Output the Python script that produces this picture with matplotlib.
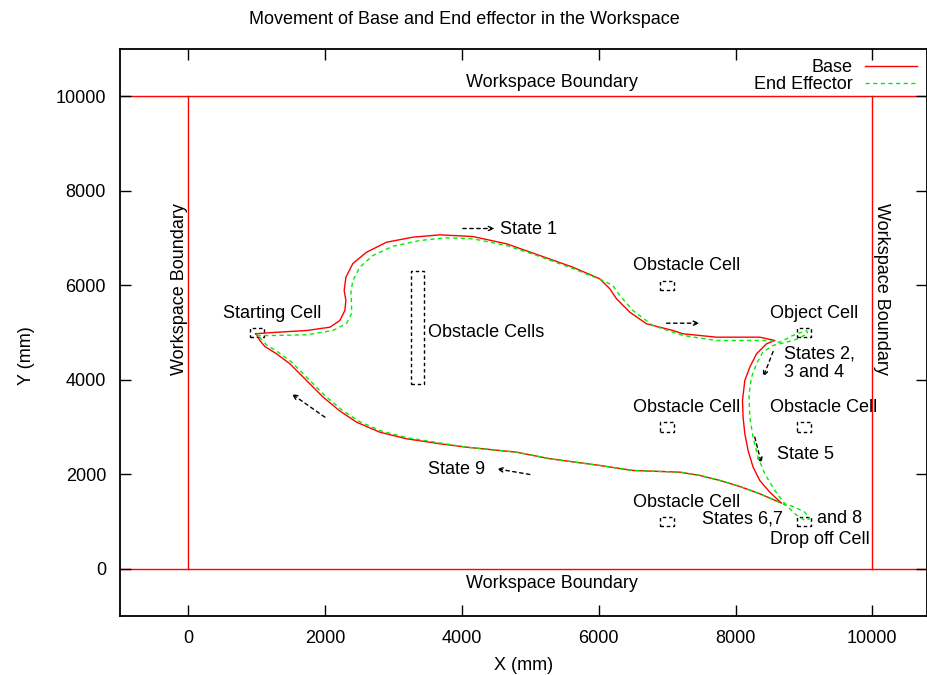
import matplotlib
matplotlib.use("Agg")
import matplotlib.pyplot as plt
from matplotlib.patches import Rectangle

plt.rcParams['font.family'] = ['Liberation Sans', 'DejaVu Sans']

# ---------------- data ----------------
base_x = [982, 1235, 1728, 2069, 2215, 2288, 2303, 2278, 2303, 2405, 2605, 2898, 3282, 3677,
          4159, 4652, 5139, 5621, 6016, 6162, 6260, 6455, 6699, 7083, 7230, 7722, 8355, 8575,
          8453, 8307, 8209, 8136, 8102, 8111, 8136, 8184, 8257, 8355, 8501, 8673,
          8355, 8063, 7770, 7478, 7186, 6499, 6016, 5285, 4798, 4067, 3677, 3190, 2800, 2459,
          2215, 1971, 1728, 1484, 1289, 1118, 1045, 987]
base_y = [4973, 5000, 5042, 5112, 5254, 5466, 5677, 5889, 6170, 6460, 6699, 6911, 7017, 7067,
          7031, 6877, 6629, 6382, 6136, 5925, 5713, 5430, 5184, 5043, 4973, 4901, 4901, 4831,
          4761, 4549, 4266, 3985, 3561, 3208, 2857, 2503, 2150, 1869, 1621, 1388,
          1587, 1741, 1869, 1975, 2044, 2080, 2186, 2328, 2467, 2573, 2645, 2751, 2890, 3102,
          3339, 3631, 3984, 4338, 4549, 4704, 4831, 4979]

ee_x = [997, 1235, 1728, 2113, 2313, 2386, 2386, 2376, 2405, 2507, 2697, 2990, 3384, 3775,
        4159, 4652, 5139, 5621, 6060, 6206, 6308, 6499, 6791, 7230, 7722, 8453, 8648, 8838,
        9038, 9057, 8900, 8746, 8545, 8399, 8307, 8234, 8199, 8199, 8209, 8257, 8330, 8428,
        8575, 8721, 8842, 9013, 9086, 9013, 8880, 8750, 8673,
        8355, 8063, 7770, 7478, 7186, 6499, 6016, 5285, 4798, 4067, 3690, 3205, 2818, 2480,
        2238, 1995, 1752, 1508, 1312, 1140, 1062, 997]
ee_y = [4937, 4937, 4951, 5042, 5190, 5402, 5614, 5853, 6100, 6382, 6629, 6826, 6947, 7004,
        6983, 6841, 6608, 6354, 6100, 5995, 5783, 5466, 5149, 4937, 4831, 4831, 4795, 4937,
        5043, 4979, 4860, 4795, 4725, 4583, 4338, 4054, 3703, 3561, 3208, 2785, 2361, 2010,
        1657, 1375, 1318, 1198, 1058, 1022, 1150, 1330, 1388,
        1587, 1741, 1869, 1975, 2044, 2080, 2186, 2328, 2467, 2573, 2660, 2771, 2915, 3130,
        3370, 3665, 4020, 4375, 4585, 4740, 4865, 4979]

# dashed cells: (x0, y0, width, height)
cells = [(900, 4900, 200, 200),      # starting cell
         (3250, 3900, 200, 2400),    # obstacle cells column
         (6900, 5900, 200, 200),
         (8900, 4900, 200, 200),     # object cell
         (6900, 2900, 200, 200),
         (8900, 2900, 200, 200),
         (6900, 900, 200, 200),
         (8900, 900, 200, 200)]      # drop off cell

# state arrows: (x_from, y_from, x_to, y_to)
arrows = [(4013, 7201, 4481, 7201),
          (6992, 5197, 7478, 5197),
          (8550, 4598, 8404, 4054),
          (8282, 2785, 8380, 2222),
          (4993, 1995, 4506, 2116),
          (1996, 3208, 1508, 3703)]

labels = [("Starting Cell", 509, 5396, 'left'),
          ("Obstacle Cells", 3497, 4994, 'left'),
          ("State 1", 4554, 7179, 'left'),
          ("Obstacle Cell", 6503, 6418, 'left'),
          ("Object Cell", 8501, 5396, 'left'),
          ("States 2,\n3 and 4", 8706, 4344, 'left'),
          ("Obstacle Cell", 6503, 3420, 'left'),
          ("Obstacle Cell", 8501, 3420, 'left'),
          ("State 5", 8600, 2412, 'left'),
          ("Obstacle Cell", 6503, 1409, 'left'),
          ("States 6,7", 8699, 1058, 'right'),
          ("and 8", 9193, 1058, 'left'),
          ("Drop off Cell", 8501, 614, 'left'),
          ("State 9", 3506, 2101, 'left'),
          ("Workspace Boundary", 5310, 10290, 'center'),
          ("Workspace Boundary", 5310, -317, 'center')]

boundary = [0, 10000]
xticks = [0, 2000, 4000, 6000, 8000, 10000]
yticks = [0, 2000, 4000, 6000, 8000, 10000]

# ---------------- figure ----------------
fig = plt.figure(figsize=(9.28, 6.75), dpi=100)
ax = fig.add_axes([120/928, 59/675, 807/928, 567/675])
ax.set_xlim(-1000, 10800)
ax.set_ylim(-1000, 11000)

# workspace boundary
for b in boundary:
    ax.axhline(b, color='#ff0000', lw=1.0, zorder=1)
    ax.plot([b, b], [boundary[0], boundary[1]], color='#ff0000', lw=1.0, zorder=1)

ax.text(-124, 5925, "Workspace Boundary", rotation=90, ha='center', va='center', fontsize=13)
ax.text(10134, 5925, "Workspace Boundary", rotation=-90, ha='center', va='center', fontsize=13)

for (x0, y0, w, h) in cells:
    ax.add_patch(Rectangle((x0, y0), w, h, fill=False, edgecolor='black',
                           lw=1.0, linestyle=(0, (2.5, 2)), zorder=2))

for (x1, y1, x2, y2) in arrows:
    ax.annotate("", xy=(x2, y2), xytext=(x1, y1),
                arrowprops=dict(arrowstyle='->,head_length=0.35,head_width=0.15',
                                linestyle=(0, (2.5, 2.5)), lw=1.0, color='black',
                                shrinkA=0, shrinkB=0))

for (t, x, y, ha) in labels:
    ax.text(x, y, t, ha=ha, va='center', fontsize=13, linespacing=1.1)

ax.plot(base_x, base_y, color='#ff0000', lw=1.0, label='Base', zorder=3)
ax.plot(ee_x, ee_y, color='#00ee00', lw=1.0, linestyle=(0, (3, 2.5)),
        label='End Effector', zorder=4)

ax.set_xticks(xticks)
ax.set_yticks(yticks)
ax.tick_params(direction='in', length=8, width=1, top=True, right=True,
               labelsize=13, pad=10)
for s in ax.spines.values():
    s.set_linewidth(1.3)

ax.set_xlabel("X (mm)", fontsize=13)
ax.set_ylabel("Y (mm)", fontsize=13)
ax.yaxis.set_label_coords(-0.105, 0.46)
ax.xaxis.set_label_coords(0.5, -0.072)
fig.suptitle("Movement of Base and End effector in the Workspace", fontsize=13, y=0.983)

ax.legend(loc='upper right', bbox_to_anchor=(0.997, 0.995), markerfirst=False, frameon=False,
          handlelength=2.9, fontsize=13, labelspacing=0.0, handletextpad=0.7,
          borderaxespad=0.2, borderpad=0.2)

fig.savefig("out.png", dpi=100)
